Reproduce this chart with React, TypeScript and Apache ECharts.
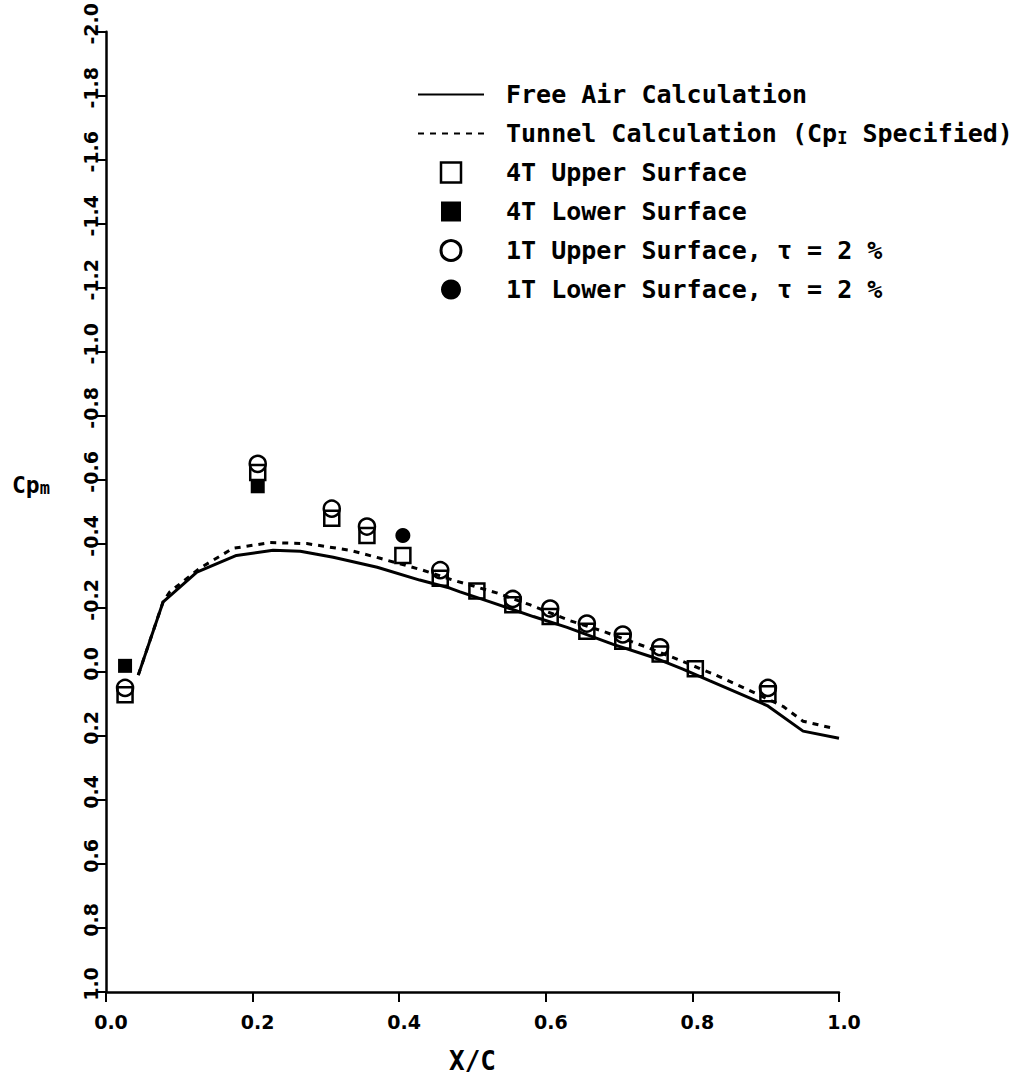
import React, { useEffect, useRef } from "react";
import * as echarts from "echarts";

// ---- data ----
const freeAirX = [0.044, 0.078, 0.124, 0.178, 0.228, 0.265, 0.31, 0.37, 0.428, 0.469, 0.483, 0.524, 0.583, 0.629, 0.692, 0.746, 0.787, 0.824, 0.902, 0.951, 1.0];
const freeAirCp = [0.01, -0.219, -0.312, -0.364, -0.38, -0.377, -0.358, -0.327, -0.287, -0.262, -0.25, -0.219, -0.173, -0.139, -0.086, -0.046, -0.009, 0.028, 0.105, 0.185, 0.207];

const tunnelX = [0.044, 0.078, 0.087, 0.128, 0.173, 0.224, 0.274, 0.333, 0.374, 0.432, 0.473, 0.533, 0.578, 0.633, 0.678, 0.738, 0.779, 0.828, 0.879, 0.924, 0.951, 0.992];
const tunnelCp = [0.01, -0.22, -0.25, -0.324, -0.386, -0.404, -0.401, -0.38, -0.355, -0.318, -0.287, -0.247, -0.21, -0.16, -0.127, -0.077, -0.04, 0.006, 0.059, 0.108, 0.154, 0.176];

const upper4TX = [0.026, 0.207, 0.308, 0.356, 0.405, 0.456, 0.506, 0.555, 0.606, 0.656, 0.705, 0.756, 0.804, 0.903];
const upper4TCp = [0.071, -0.623, -0.48, -0.426, -0.364, -0.293, -0.253, -0.21, -0.173, -0.127, -0.096, -0.056, -0.01, 0.068];

const lower4TX = [0.026, 0.207];
const lower4TCp = [-0.019, -0.58];

const upper1TX = [0.026, 0.207, 0.308, 0.356, 0.456, 0.555, 0.606, 0.656, 0.705, 0.756, 0.903];
const upper1TCp = [0.05, -0.65, -0.51, -0.454, -0.318, -0.228, -0.198, -0.151, -0.117, -0.077, 0.05];

const lower1TX = [0.405];
const lower1TCp = [-0.426];

const seriesNames = [
  "Free Air Calculation",
  "Tunnel Calculation (CpI Specified)",
  "4T Upper Surface",
  "4T Lower Surface",
  "1T Upper Surface, τ = 2 %",
  "1T Lower Surface, τ = 2 %",
];

const pairs = (xs: number[], ys: number[]) => xs.map((x, i) => [x, ys[i]]);

const fmt = (v: number) => {
  const r = Math.round(v * 10) / 10;
  return (Math.abs(r) < 1e-9 ? 0 : r).toFixed(1);
};

export default function App() {
  const ref = useRef<HTMLDivElement>(null);

  useEffect(() => {
    if (!ref.current) return;
    const chart = echarts.init(ref.current, undefined, { renderer: "svg" });
    const mono = "DejaVu Sans Mono";
    const hollow = { color: "transparent", borderColor: "#000", borderWidth: 2.5, opacity: 1 };
    const filled = { color: "#000", borderColor: "#000", borderWidth: 0, opacity: 1 };
    const squareIcon = "path://M0 0H10V10H0Z";
    const noSymbol = { color: "transparent", borderColor: "transparent", borderWidth: 0 };

    chart.setOption({
      animation: false,
      backgroundColor: "#fff",
      grid: { left: 106, right: 187, top: 20, bottom: 87, containLabel: false },
      legend: {
        orient: "vertical",
        left: 412,
        top: 77,
        itemWidth: 66,
        itemHeight: 20,
        itemGap: 14,
        selectedMode: false,
        data: [
          { name: seriesNames[0], itemStyle: noSymbol },
          { name: seriesNames[1], itemStyle: noSymbol },
          { name: seriesNames[2], icon: squareIcon, itemStyle: { color: "transparent", borderColor: "#000", borderWidth: 2.5 } },
          { name: seriesNames[3], icon: squareIcon, itemStyle: { color: "#000", borderWidth: 0 } },
          { name: seriesNames[4], icon: "circle", itemStyle: { color: "transparent", borderColor: "#000", borderWidth: 3 } },
          { name: seriesNames[5], icon: "circle", itemStyle: { color: "#000", borderWidth: 0 } },
        ],
        formatter: (name: string) =>
          name === seriesNames[1]
            ? "{a|Tunnel Calculation (Cp}{s|I}{a| Specified)}"
            : "{a|" + name + "}",
        textStyle: {
          padding: [0, 0, 0, 17],
          rich: {
            a: { fontFamily: mono, fontWeight: "bold", fontSize: 25, lineHeight: 25, color: "#000" },
            s: { fontFamily: mono, fontWeight: "bold", fontSize: 17, lineHeight: 12, verticalAlign: "bottom", color: "#000" },
          },
        },
      },
      xAxis: {
        type: "value",
        min: 0,
        max: 1,
        interval: 0.2,
        name: "X/C",
        nameLocation: "middle",
        nameGap: 56,
        nameTextStyle: { fontFamily: mono, fontWeight: "bold", fontSize: 26, color: "#000" },
        axisLine: { show: true, onZero: false, lineStyle: { color: "#000", width: 2.5 } },
        axisTick: { show: true, length: 10, lineStyle: { color: "#000", width: 2 } },
        axisLabel: {
          margin: 20,
          formatter: fmt,
          fontFamily: "DejaVu Sans",
          fontWeight: "bold",
          fontSize: 19,
          color: "#000",
          padding: [0, 0, 0, 10],
        },
        splitLine: { show: false },
      },
      yAxis: {
        type: "value",
        min: -2,
        max: 1,
        interval: 0.2,
        inverse: true,
        axisLine: { show: true, onZero: false, lineStyle: { color: "#000", width: 2.5 } },
        axisTick: { show: true, length: 9, lineStyle: { color: "#000", width: 2 } },
        axisLabel: {
          rotate: 90,
          margin: 6,
          formatter: fmt,
          fontFamily: "DejaVu Sans",
          fontWeight: "bold",
          fontSize: 19,
          color: "#000",
          padding: [0, 0, 0, 16],
        },
        splitLine: { show: false },
      },
      graphic: [
        {
          type: "text",
          left: 12,
          top: 473,
          style: {
            text: "{a|Cp}{b|m}",
            rich: {
              a: { fontFamily: mono, fontWeight: "bold", fontSize: 23, lineHeight: 24, fill: "#000" },
              b: { fontFamily: mono, fontWeight: "bold", fontSize: 17, lineHeight: 10, verticalAlign: "bottom", fill: "#000" },
            },
          },
        },
      ],
      series: [
        {
          name: seriesNames[0],
          type: "line",
          data: pairs(freeAirX, freeAirCp),
          symbol: "none",
          lineStyle: { color: "#000", width: 3, type: "solid" },
          itemStyle: { color: "#000" },
          z: 2,
        },
        {
          name: seriesNames[1],
          type: "line",
          data: pairs(tunnelX, tunnelCp),
          symbol: "none",
          lineStyle: { color: "#000", width: 3, type: [6, 6] },
          itemStyle: { color: "#000" },
          z: 2,
        },
        {
          name: seriesNames[2],
          type: "scatter",
          symbol: "rect",
          symbolSize: 15,
          data: pairs(upper4TX, upper4TCp),
          itemStyle: hollow,
          z: 3,
        },
        {
          name: seriesNames[3],
          type: "scatter",
          symbol: "rect",
          symbolSize: 14,
          data: pairs(lower4TX, lower4TCp),
          itemStyle: filled,
          z: 3,
        },
        {
          name: seriesNames[4],
          type: "scatter",
          symbol: "circle",
          symbolSize: 16,
          data: pairs(upper1TX, upper1TCp),
          itemStyle: hollow,
          z: 3,
        },
        {
          name: seriesNames[5],
          type: "scatter",
          symbol: "circle",
          symbolSize: 15,
          data: pairs(lower1TX, lower1TCp),
          itemStyle: filled,
          z: 3,
        },
      ],
    });

    return () => chart.dispose();
  }, []);

  return (
    <div
      ref={ref}
      style={{ position: "fixed", left: 0, top: 0, width: 1026, height: 1079, background: "#fff" }}
    />
  );
}
